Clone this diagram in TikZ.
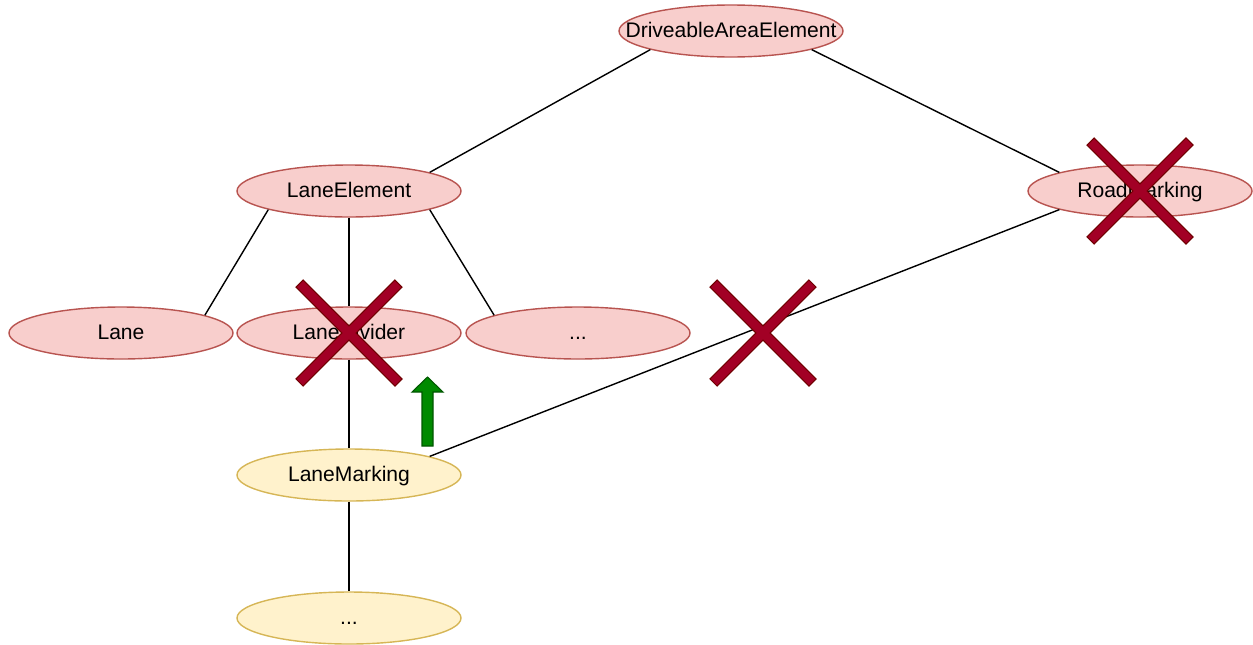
\documentclass[tikz,border=0pt]{standalone}
\usepackage{fontspec}
\setmainfont{Liberation Sans}
\usetikzlibrary{shapes.geometric, positioning}

\definecolor{redfill}{HTML}{F8CECC}
\definecolor{redline}{HTML}{B85450}
\definecolor{yellowfill}{HTML}{FFF2CC}
\definecolor{yellowline}{HTML}{D6B656}
\definecolor{crossred}{HTML}{A20025}
\definecolor{crossdark}{HTML}{6F0000}
\definecolor{upgreen}{HTML}{008A00}
\definecolor{upgreendark}{HTML}{005700}

\tikzset{
    pics/crossmark/.style={
        code={
            \filldraw[fill=crossred, draw=crossdark, line width=0.6pt, rotate=45]
                (70,5) -- (5,5) -- (5,70) -- (-5,70) -- (-5,5) -- (-70,5)
                -- (-70,-5) -- (-5,-5) -- (-5,-70) -- (5,-70) -- (5,-5)
                -- (70,-5) -- cycle;
        }
    }
}

\begin{document}
\begin{tikzpicture}[
            x = 0.2mm, y = -0.2mm,
            node distance = 2.84cm,
            on grid,
            line width = 0.8pt,
            font = \fontsize{12}{14}\selectfont
        ]

        \tikzstyle{class}=[
            ellipse,
            draw = redline,
            fill = redfill,
            minimum width = 44.8mm,
            minimum height = 10.4mm,
            inner xsep = -25pt,
            inner ysep = 0pt,
            text height = 8.6pt,
            text depth = 1.2pt
        ]
        \tikzstyle{newclass}=[class, draw = yellowline, fill = yellowfill]

        \useasboundingbox (0,0) rectangle (1253,644);

        \node[class] (ldiv) at (349,333) {LaneDivider};
        \node[class] (lane) [left=4.56cm of ldiv] {Lane};
        \node[class] (other) [right=4.58cm of ldiv] {...};
        \node[class] (le) [above of=ldiv] {LaneElement};
        \node[class] (dae) [above right=3.2cm and 7.64cm of le] {DriveableAreaElement};
        \node[class] (rm) [below right=3.2cm and 8.18cm of dae] {RoadMarking};
        \node[newclass] (lm) [below of=ldiv] {LaneMarking};
        \node[newclass] (more) [below=2.86cm of lm] {...};

        \draw (dae.193) -- (le.13);
        \draw (dae.347) -- (rm.167);
        \draw (le.193) -- (lane.12);
        \draw (le) -- (ldiv);
        \draw (le.347) -- (other.168);
        \draw (ldiv) -- (lm);
        \draw (lm.13) -- (rm.193);
        \draw (lm) -- (more);

        % moved up
        \coordinate (up) at (427.5,446);
        \filldraw[fill=upgreen, draw=upgreendark, line width=0.6pt]
            (up) ++(-5.5,0) -- ++(0,-54) -- ++(-10,0) -- ++(15.5,-15)
            -- ++(15.5,15) -- ++(-10,0) -- ++(0,54) -- cycle;

        % removed
        \coordinate (cut) at (763,333);
        \pic at (ldiv) {crossmark};
        \pic at (rm) {crossmark};
        \pic at (cut) {crossmark};

    \end{tikzpicture}
\end{document}
